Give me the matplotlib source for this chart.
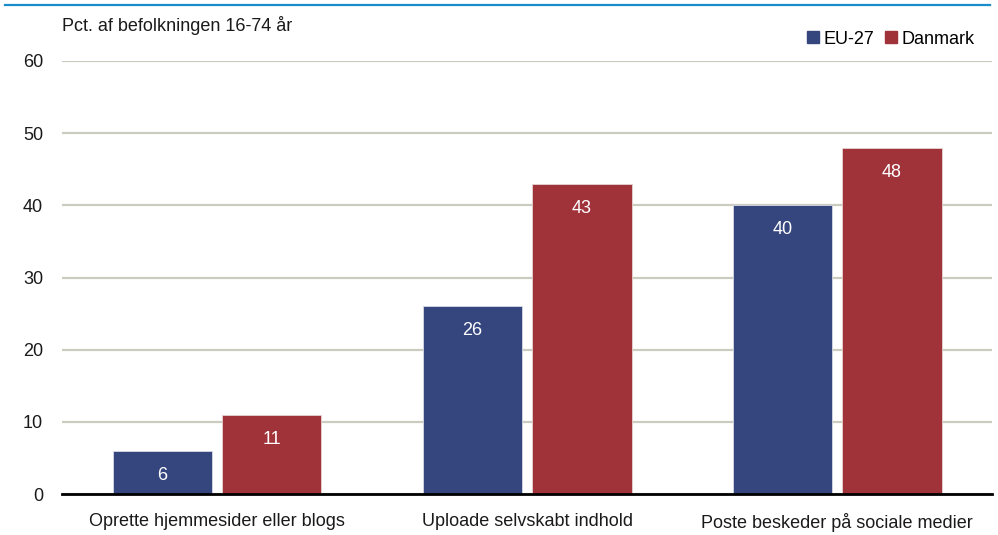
import numpy as np
import matplotlib
matplotlib.use("Agg")
from matplotlib import pyplot as plt
from matplotlib.lines import Line2D

categories = ["Oprette hjemmesider eller blogs", "Uploade selvskabt indhold",
              "Poste beskeder på sociale medier"]
eu27 = [6, 26, 40]
danmark = [11, 43, 48]
series_names = ["EU-27", "Danmark"]
yticks = [0, 10, 20, 30, 40, 50, 60]

blue = "#35467e"
red = "#a0333a"
grid_col = "#cbcbc0"

plt.rcParams['font.family'] = ['Liberation Sans Narrow', 'Liberation Sans', 'DejaVu Sans']

fig = plt.figure(figsize=(9.98, 5.35), dpi=100)
ax = fig.add_axes([0.0621, 0.0766, 0.932, 0.8094])

x = np.arange(len(categories))
w = 0.32
off = 0.177
b1 = ax.bar(x - off, eu27, w, color=blue, edgecolor="#d8dbe6", linewidth=0.6, zorder=3)
b2 = ax.bar(x + off, danmark, w, color=red, edgecolor="#e6d3d3", linewidth=0.6, zorder=3)

for bars, vals in ((b1, eu27), (b2, danmark)):
    for r, v in zip(bars, vals):
        ax.text(r.get_x() + r.get_width() / 2, v - 3.4, str(v), ha="center", va="center",
                color="white", fontsize=13, zorder=4)

ax.set_xlim(-0.5, 2.5)
ax.set_ylim(0, 60)
ax.set_yticks(yticks)
ax.set_yticklabels([str(t) for t in yticks], fontsize=13)
ax.set_xticks(x)
ax.set_xticklabels(categories, fontsize=13)
ax.tick_params(axis="x", length=0, pad=14, colors="#1a1a1a")
ax.tick_params(axis="y", length=0, pad=13.5, colors="#1a1a1a")
ax.yaxis.grid(True, color=grid_col, linewidth=1.6, zorder=0)
ax.set_axisbelow(True)
for s in ("top", "right", "left"):
    ax.spines[s].set_visible(False)
ax.spines["bottom"].set_linewidth(2.0)
ax.spines["bottom"].set_color("black")
ax.spines["bottom"].set_zorder(5)

fig.text(0.0621, 0.952, "Pct. af befolkningen 16-74 år", fontsize=13, ha="left", va="center",
         color="#1a1a1a")

handles = [Line2D([], [], marker="s", linestyle="none", markersize=9, color=blue),
           Line2D([], [], marker="s", linestyle="none", markersize=9, color=red)]
fig.legend(handles, series_names, loc="center right", bbox_to_anchor=(0.993, 0.927),
           ncol=2, frameon=False, fontsize=13, handletextpad=0.1, columnspacing=0.4,
           handlelength=1.0)

fig.add_artist(Line2D([0.005, 0.992], [0.99, 0.99], color="#1a8ccc", linewidth=1.6,
                      transform=fig.transFigure))

fig.savefig("out.png", dpi=100)
